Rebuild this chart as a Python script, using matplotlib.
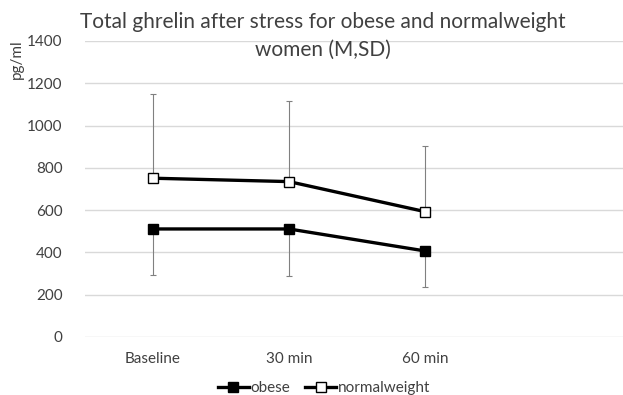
import matplotlib
matplotlib.use("Agg")
import matplotlib.pyplot as plt

plt.rcParams["font.family"] = ["Lato", "DejaVu Sans"]

# Mean and SD of total ghrelin (pg/ml) at each time point
categories = ["Baseline", "30 min", "60 min", ""]
obese_mean = [511, 511, 407]
obese_sd = [218, 224, 171]
normal_mean = [751, 735, 593]
normal_sd = [399, 383, 312]

TEXT = "#404040"
GRID = "#d9d9d9"
ERR = "#808080"

fig = plt.figure(figsize=(6.23, 3.95), dpi=100)
ax = fig.add_axes([85 / 623, 1 - 337 / 395, 544 / 623, 296 / 395])

x = list(range(len(obese_mean)))

# SD whiskers: downward for obese, upward for normal weight
ax.errorbar(x, obese_mean, yerr=[obese_sd, [0] * len(obese_sd)], fmt="none",
            ecolor=ERR, elinewidth=0.8, capsize=2.5, capthick=0.8, zorder=2)
ax.errorbar(x, normal_mean, yerr=[[0] * len(normal_sd), normal_sd], fmt="none",
            ecolor=ERR, elinewidth=0.8, capsize=2.5, capthick=0.8, zorder=2)

ax.plot(x, obese_mean, color="black", lw=2.4, marker="s", markersize=7.5,
        markerfacecolor="black", markeredgecolor="black", label="obese", zorder=3)
ax.plot(x, normal_mean, color="black", lw=2.4, marker="s", markersize=7.5,
        markerfacecolor="white", markeredgecolor="black", markeredgewidth=1.0,
        label="normalweight", zorder=3)

ax.set_xlim(-0.5, len(categories) - 0.5)
ax.set_ylim(0, 1400)
ax.set_yticks(range(0, 1401, 200))
ax.set_xticks(range(len(categories)))
ax.set_xticklabels(categories)
ax.yaxis.grid(True, color=GRID, lw=1.0)
ax.set_axisbelow(True)
for s in ax.spines.values():
    s.set_visible(False)
ax.tick_params(length=0, labelsize=11, labelcolor=TEXT)
ax.tick_params(axis="y", pad=16)
ax.tick_params(axis="x", pad=11)

fig.text(323 / 623, 1 - 22 / 395, "Total ghrelin after stress for obese and normalweight",
         ha="center", va="center", fontsize=15, color=TEXT)
fig.text(323 / 623, 1 - 50 / 395, "women (M,SD)",
         ha="center", va="center", fontsize=15, color=TEXT)
fig.text(17 / 623, 1 - 59 / 395, "pg/ml", rotation=90, ha="center", va="center",
         fontsize=11, color=TEXT)

fig.legend(loc="center", bbox_to_anchor=(324 / 623, 1 - 388 / 395), ncol=2,
           frameon=False, fontsize=11, handlelength=2.0, handletextpad=0.1,
           columnspacing=1.0, labelcolor=TEXT)

fig.savefig("out.png", dpi=100)
